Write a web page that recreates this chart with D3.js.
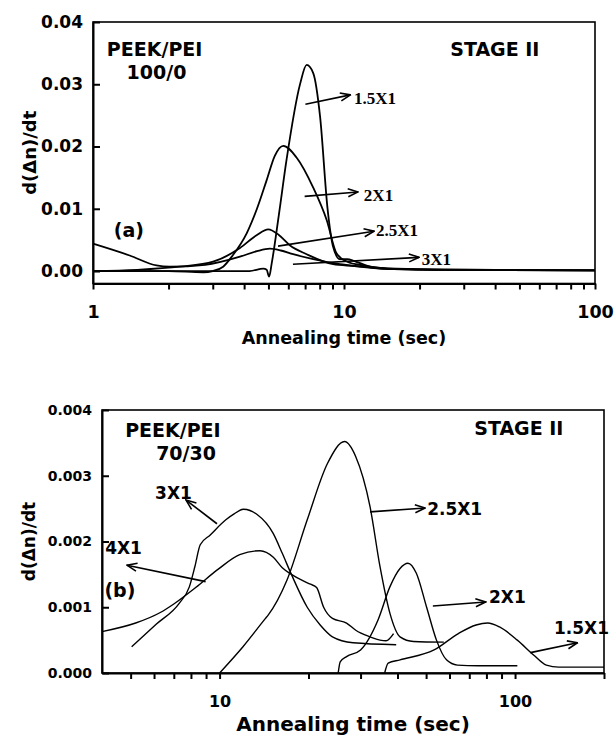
<!DOCTYPE html>
<html>
<head>
<meta charset="utf-8">
<script src="https://cdn.jsdelivr.net/npm/d3@7"></script>
<style>
  body { margin: 0; background: #fff; }
  svg { display: block; }
  text { font-family: "DejaVu Sans", sans-serif; font-weight: bold; fill: #000; }
</style>
</head>
<body>
<svg class="chart" width="614" height="739"></svg>
<script>
"use strict";

// ---- panel (a): PEEK/PEI 100/0   [annealing time (s), d(dn)/dt]
var a_15x1 = [[1, 0], [2, 0], [3, 0], [4.2, 0], [4.77, 0.0004], [4.92, 0.0002], [5.03, -0.0009],
  [5.15, 0.0012], [5.5, 0.009], [5.9, 0.0178], [6.69, 0.0301], [7.1, 0.0331], [7.54, 0.0318],
  [8.03, 0.0248], [8.6, 0.010], [9.05, 0.0039], [9.63, 0.0019], [10.3, 0.0019], [11, 0.0016],
  [12.5, 0.0008], [15, 0.0004], [25, 0.0002], [100, 0.0001]];
var a_2x1 = [[1, 0], [2, 0], [2.75, -0.0002], [3.0, 0], [3.3, 0.0007], [3.6, 0.0025], [4.1, 0.0061],
  [4.5, 0.010], [4.92, 0.0146], [5.3, 0.0185], [5.73, 0.0201], [6.48, 0.0182], [7.54, 0.0134],
  [8.53, 0.0082], [9.35, 0.0028], [10.3, 0.0015], [12, 0.0009], [14, 0.0005], [20, 0.0003],
  [40, 0.0002], [100, 0.0001]];
var a_25x1 = [[1, 0], [1.5, 0.0002], [2.22, 0.0007], [3.01, 0.0015], [3.85, 0.0037], [4.5, 0.0058],
  [4.99, 0.0067], [5.5, 0.0058], [6.1, 0.0041], [7.1, 0.0027], [9.05, 0.0011], [11, 0.0008],
  [14, 0.0004], [25, 0.0002], [100, 0.0001]];
var a_3x1 = [[1, 0.0044], [1.4, 0.0025], [1.79, 0.0009], [2.02, 0.0007], [2.8, 0.001], [3.85, 0.0023],
  [4.5, 0.0032], [5.07, 0.0036], [5.6, 0.0033], [6.27, 0.0027], [7.54, 0.0019], [9.63, 0.0011],
  [12, 0.0007], [14, 0.0004], [25, 0.0002], [100, 0.0001]];

var a_xTicks = [1, 2, 3, 4, 5, 6, 7, 8, 9, 10, 20, 30, 40, 50, 60, 70, 80, 90, 100];
var a_xLabels = [1, 10, 100];
var a_yTicks = [0, 0.01, 0.02, 0.03, 0.04];

// ---- panel (b): PEEK/PEI 70/30
var b_15x1 = [[36.2, 0], [37.2, 0.00015], [40.8, 0.0002], [53.2, 0.00035], [64.3, 0.0006],
  [73.8, 0.00073], [80.8, 0.00076], [88.6, 0.0007], [101.8, 0.0005], [115.8, 0.00027],
  [127.6, 0.00012], [140.6, 0.00009], [200, 0.00009]];
var b_2x1 = [[25.2, 0], [25.6, 0.00017], [26.9, 0.00025], [30.0, 0.00035], [34.4, 0.00081],
  [37.7, 0.00131], [40.8, 0.00159], [43.4, 0.00167], [46.3, 0.00152], [50.2, 0.001], [54.2, 0.0005],
  [58.6, 0.0002], [63.8, 0.00012], [75, 0.00011], [101.8, 0.00011]];
var b_25x1 = [[10, 0], [12, 0.0004], [14.3, 0.00083], [14.6, 0.00088], [16.9, 0.00141], [19.8, 0.00233],
  [23.2, 0.00319], [26.5, 0.00352], [28.9, 0.00329], [32.3, 0.00253], [34.9, 0.00162], [37.7, 0.00091],
  [40.8, 0.00055], [45.3, 0.00048], [57.4, 0.00047]];
var b_3x1 = [[5.04, 0.0004], [6.1, 0.00074], [7.3, 0.00106], [7.9, 0.00131], [8.25, 0.00162],
  [8.6, 0.00195], [9.3, 0.0021], [10.5, 0.00233], [11.2, 0.00242], [12.05, 0.00249], [13.4, 0.00241],
  [15.2, 0.00212], [16.3, 0.00182], [17.5, 0.0015], [19.8, 0.001], [21.9, 0.00073], [24.1, 0.00055],
  [28.3, 0.00046], [39.6, 0.00043]];
var b_4x1 = [[4, 0.00063], [5.2, 0.00076], [6.3, 0.00092], [7.0, 0.00105], [8.3, 0.0013], [9.9, 0.00158],
  [11.7, 0.0018], [13.7, 0.00186], [15.2, 0.00176], [16.3, 0.0016], [17.5, 0.0015], [19.2, 0.0014],
  [20.3, 0.00135], [21.3, 0.0013], [22.5, 0.001], [24.1, 0.00083], [26.9, 0.00076], [28.9, 0.00065],
  [32.3, 0.00055], [34.9, 0.0005], [36.6, 0.00049], [38.8, 0.0006]];

var b_xTicks = [5, 6, 7, 8, 9, 10, 20, 30, 40, 50, 60, 70, 80, 90, 100, 200];
var b_xLabels = [10, 100];
var b_yTicks = [0, 0.001, 0.002, 0.003, 0.004];

// ---- annotations, anchored in data space
var a_notes = [
  {text: '1.5X1', from: [7.02, 0.0268], to: [10.6, 0.0283], at: [10.96, 0.0278]},
  {text: '2X1', from: [6.97, 0.0120], to: [11.37, 0.0127], at: [12.0, 0.0122]},
  {text: '2.5X1', from: [5.46, 0.0040], to: [13.17, 0.0064], at: [13.4, 0.0066]},
  {text: '3X1', from: [6.26, 0.0011], to: [19.9, 0.0022], at: [20.4, 0.0019]}
];
var a_titles = [
  {text: 'PEEK/PEI', at: [1.76, 0.0357]},
  {text: '100/0', at: [1.79, 0.0319]},
  {text: 'STAGE II', at: [39.9, 0.0357]},
  {text: '(a)', at: [1.39, 0.0066]}
];
var b_notes = [
  {text: '3X1', from: [9.8, 0.00227], to: [7.7, 0.00263], at: [6.98, 0.00274], anchor: 'middle'},
  {text: '4X1', from: [8.97, 0.00139], to: [4.86, 0.00164], at: [4.73, 0.0019], anchor: 'middle'},
  {text: '2.5X1', from: [32.3, 0.00245], to: [49.6, 0.00251], at: [50.4, 0.00249], anchor: 'start'},
  {text: '2X1', from: [52.7, 0.00102], to: [79.5, 0.00108], at: [81.6, 0.00116], anchor: 'start'},
  {text: '1.5X1', from: [112.7, 0.00031], to: [162.6, 0.00046], at: [135.4, 0.00068], anchor: 'start'}
];
var b_titles = [
  {text: 'PEEK/PEI', at: [6.95, 0.0037]},
  {text: '70/30', at: [7.7, 0.00335]},
  {text: 'STAGE II', at: [103, 0.00373]},
  {text: '(b)', at: [4.6, 0.00126]}
];

var svg = d3.select('.chart');

svg.append('defs').append('marker')
  .attr('id', 'arrow')
  .attr('viewBox', '0 -5 12 10')
  .attr('refX', 11).attr('refY', 0)
  .attr('markerUnits', 'userSpaceOnUse')
  .attr('markerWidth', 12).attr('markerHeight', 10)
  .attr('orient', 'auto')
  .append('path')
  .attr('d', 'M1,-4L11,0L1,4')
  .attr('fill', 'none').attr('stroke', '#000').attr('stroke-width', 1.6);

function drawPanel(p) {
  var g = svg.append('g');
  var x = d3.scaleLog().domain(p.xDomain).range([p.left, p.right]);
  var y = d3.scaleLinear().domain(p.yDomain).range([p.bottom, p.top]);

  // frame
  g.append('rect')
    .attr('x', p.left).attr('y', p.top)
    .attr('width', p.right - p.left).attr('height', p.bottom - p.top)
    .attr('fill', 'none').attr('stroke', '#000').attr('stroke-width', 1.6);

  // curves
  var line = d3.line()
    .x(function (d) { return x(d[0]); })
    .y(function (d) { return y(d[1]); })
    .curve(d3.curveMonotoneX);
  g.selectAll('.curve')
    .data(p.series)
    .enter()
    .append('path')
    .attr('class', 'curve')
    .attr('d', line)
    .attr('fill', 'none')
    .attr('stroke', '#000')
    .attr('stroke-width', p.lineWidth);

  // axes
  var xAxis = g.append('g')
    .attr('transform', 'translate(0,' + p.bottom + ')')
    .call(d3.axisBottom(x)
      .tickValues(p.xTicks)
      .tickSize(6).tickSizeOuter(0)
      .tickPadding(p.xPad)
      .tickFormat(function (d) { return p.xLabels.indexOf(d) >= 0 ? d : ''; }));
  var yAxis = g.append('g')
    .attr('transform', 'translate(' + p.left + ',0)')
    .call(d3.axisLeft(y)
      .tickValues(p.yTicks)
      .tickSize(-7).tickSizeOuter(0)
      .tickPadding(10)
      .tickFormat(d3.format(p.yFormat)));
  [xAxis, yAxis].forEach(function (a) {
    a.attr('font-family', null).attr('font-size', null);
    a.selectAll('line, path').attr('stroke', '#000').attr('stroke-width', 2);
  });
  xAxis.selectAll('text').style('font-size', p.xFont + 'px');
  yAxis.selectAll('text').style('font-size', p.yFont + 'px');

  // axis titles
  g.append('text')
    .attr('x', (p.left + p.right) / 2).attr('y', p.xTitleY)
    .attr('text-anchor', 'middle')
    .style('font-size', p.xTitleFont + 'px')
    .text('Annealing time (sec)');
  g.append('text')
    .attr('transform', 'translate(' + p.yTitleX + ',' + (p.top + p.bottom) / 2 + ') rotate(-90)')
    .attr('text-anchor', 'middle')
    .style('font-size', p.yTitleFont + 'px')
    .text('d(\u0394n)/dt');

  // panel labels
  g.selectAll('.title')
    .data(p.titles)
    .enter()
    .append('text')
    .attr('x', function (d) { return x(d.at[0]); })
    .attr('y', function (d) { return y(d.at[1]); })
    .attr('dy', '0.36em')
    .attr('text-anchor', 'middle')
    .style('font-size', p.titleFont + 'px')
    .text(function (d) { return d.text; });

  // arrows + curve labels
  g.selectAll('.arrow')
    .data(p.notes)
    .enter()
    .append('line')
    .attr('x1', function (d) { return x(d.from[0]); })
    .attr('y1', function (d) { return y(d.from[1]); })
    .attr('x2', function (d) { return x(d.to[0]); })
    .attr('y2', function (d) { return y(d.to[1]); })
    .attr('stroke', '#000').attr('stroke-width', 1.6)
    .attr('marker-end', 'url(#arrow)');
  g.selectAll('.note')
    .data(p.notes)
    .enter()
    .append('text')
    .attr('x', function (d) { return x(d.at[0]); })
    .attr('y', function (d) { return y(d.at[1]); })
    .attr('dy', '0.36em')
    .attr('text-anchor', function (d) { return d.anchor || 'start'; })
    .style('font-family', p.noteFamily)
    .style('font-size', p.noteFont + 'px')
    .text(function (d) { return d.text; });
}

drawPanel({
  left: 93, right: 595, top: 22, bottom: 283.5,
  xDomain: [1, 100], yDomain: [-0.002, 0.04],
  series: [a_15x1, a_2x1, a_25x1, a_3x1], lineWidth: 1.8,
  xTicks: a_xTicks, xLabels: a_xLabels, yTicks: a_yTicks, yFormat: '.2f',
  xPad: 16, xFont: 17.5, yFont: 17,
  xTitleY: 344, xTitleFont: 17.5, yTitleX: 36, yTitleFont: 18,
  titles: a_titles, titleFont: 19,
  notes: a_notes, noteFont: 17, noteFamily: '"Liberation Serif", "Times New Roman", serif'
});

drawPanel({
  left: 102, right: 604, top: 410, bottom: 673,
  xDomain: [4, 200], yDomain: [0, 0.004],
  series: [b_15x1, b_2x1, b_25x1, b_3x1, b_4x1], lineWidth: 1.4,
  xTicks: b_xTicks, xLabels: b_xLabels, yTicks: b_yTicks, yFormat: '.3f',
  xPad: 17, xFont: 16, yFont: 14,
  xTitleY: 731, xTitleFont: 20, yTitleX: 35, yTitleFont: 17,
  titles: b_titles, titleFont: 19,
  notes: b_notes, noteFont: 17, noteFamily: '"DejaVu Sans", sans-serif'
});
</script>
</body>
</html>
